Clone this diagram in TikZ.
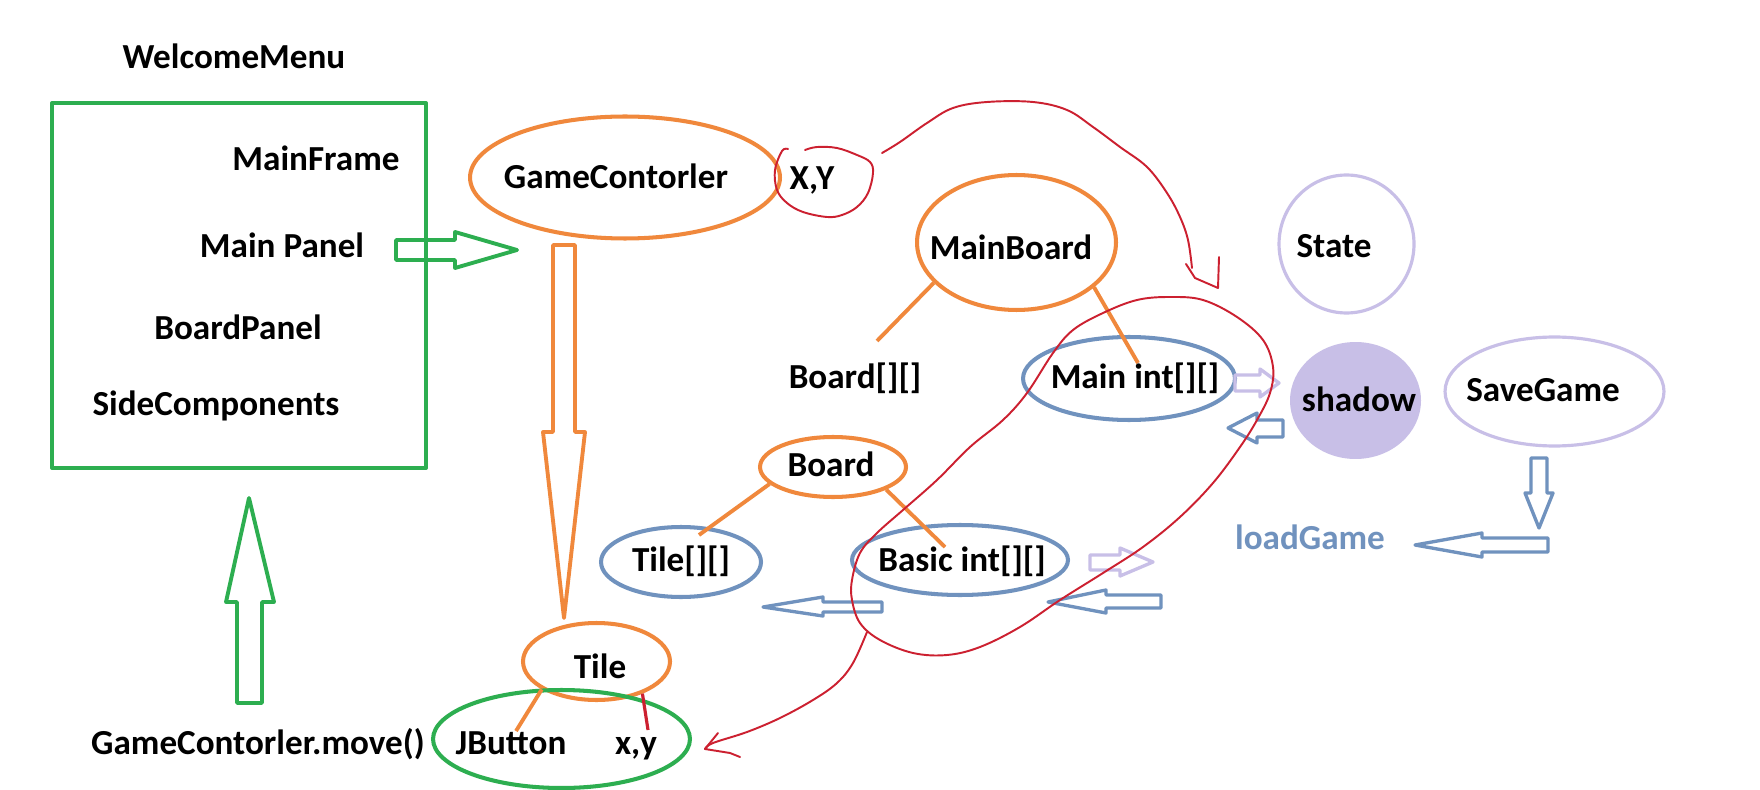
\documentclass[tikz,border=0pt]{standalone}
\usepackage{fontspec}
\setmainfont{Carlito}
\usetikzlibrary{shapes.geometric}
\definecolor{cOrange}{HTML}{F0883C}
\definecolor{cGreen}{HTML}{2DAE50}
\definecolor{cRed}{HTML}{CC2030}
\definecolor{cBlue}{HTML}{7092BE}
\definecolor{cLav}{HTML}{C8BFE7}
\begin{document}
\begin{tikzpicture}[x=0.02cm, y=-0.02cm,
  txt/.style={inner sep=0pt, text height=0.65em, text depth=0pt, yshift=-0.12cm,
              font=\bfseries\fontsize{20}{24}\selectfont},
  oval/.style={ellipse, inner sep=0pt},
  orangeoval/.style={oval, draw=cOrange, line width=2.3pt},
  blueoval/.style={oval, draw=cBlue, line width=2.3pt},
  lavoval/.style={oval, draw=cLav, line width=1.8pt},
  greenline/.style={draw=cGreen, line width=2.3pt, line join=round},
  orangeline/.style={draw=cOrange, line width=2.2pt},
  blockgreen/.style={draw=cGreen, line width=2.2pt, line join=round},
  blockorange/.style={draw=cOrange, line width=2.2pt, line join=round},
  blockblue/.style={draw=cBlue, line width=1.9pt, line join=round},
  blocklav/.style={draw=cLav, line width=1.9pt, line join=round},
  redline/.style={draw=cRed, line width=1.1pt, line join=round, line cap=round},
  ]
\fill[white] (0,0) rectangle (1760,790);
\useasboundingbox (0,0) rectangle (1760,790);

% ---------- WelcomeMenu frame ----------
\node[txt] (wm) at (234,57) {WelcomeMenu};
\draw[greenline] (52,103) rectangle (426,468);
\node[txt] (mf) at (316,159) {MainFrame};
\node[txt] (mp) at (282,246) {Main Panel};
\node[txt] (bp) at (238,328) {BoardPanel};
\node[txt] (sc) at (216,404) {SideComponents};

% ---------- ellipses ----------
\node[orangeoval, minimum width=6.2cm, minimum height=2.44cm] (gc) at (625,177.5) {};
\node[orangeoval, minimum width=3.98cm, minimum height=2.70cm] (mb) at (1016.5,242.5) {};
\node[orangeoval, minimum width=2.92cm, minimum height=1.20cm] (bd) at (833,467) {};
\node[orangeoval, minimum width=2.94cm, minimum height=1.54cm] (tl) at (596.5,661.5) {};
\node[oval, draw=cGreen, line width=2.3pt, minimum width=5.14cm, minimum height=1.96cm] (jb) at (561.5,739) {};
\node[blueoval, minimum width=4.24cm, minimum height=1.66cm] (mi) at (1129,378.5) {};
\node[blueoval, minimum width=3.20cm, minimum height=1.40cm] (tt) at (681,562) {};
\node[blueoval, minimum width=4.32cm, minimum height=1.40cm] (bi) at (960,560) {};
\node[lavoval, minimum width=2.70cm, minimum height=2.76cm] (st) at (1346.5,244) {};
\node[oval, fill=cLav, minimum width=2.62cm, minimum height=2.34cm] (sh) at (1355.5,400.5) {};
\node[lavoval, minimum width=4.38cm, minimum height=2.18cm] (sg) at (1554.5,391.5) {};

% ---------- orange tree lines ----------
\coordinate (bdArrEnd) at (877,341);
\coordinate (miEnd) at (1138,363);
\coordinate (ttEnd) at (699,535);
\coordinate (biEnd) at (945,547);
\coordinate (jbEnd) at (516,731);
\coordinate (xyEnd) at (648,730);
\draw[orangeline] (mb.206) -- (bdArrEnd);
\draw[orangeline] (mb.-30) -- (miEnd);
\draw[orangeline] (bd.195) -- (ttEnd);
\draw[orangeline] (bd.-23) -- (biEnd);
\draw[orangeline] (tl.207) -- (jbEnd);
\draw[draw=cRed, line width=1.8pt] (tl.-35) -- (xyEnd);

% ---------- block arrows ----------
\draw[blockgreen] (396,240) -- (455,240) -- (455,232) -- (517,250) -- (455,268) -- (455,260) -- (396,260) -- cycle;
\draw[blockorange] (553,245) -- (575,245) -- (575,432) -- (585,432) -- (564,618) -- (543,432) -- (553,432) -- cycle;
\draw[blockgreen] (237,703) -- (237,602) -- (226,602) -- (249,498) -- (274,602) -- (262,602) -- (262,703) -- cycle;
\draw[blocklav] (1235,375) -- (1260,375) -- (1260,369) -- (1279,383) -- (1260,397) -- (1260,391) -- (1235,391) -- cycle;
\draw[blockblue] (1283,420) -- (1257,420) -- (1257,413) -- (1228,428) -- (1257,443) -- (1257,437) -- (1283,437) -- cycle;
\draw[blocklav] (1090,555) -- (1120,555) -- (1120,548) -- (1153,562) -- (1120,576) -- (1120,570) -- (1090,570) -- cycle;
\draw[blockblue] (1161,595) -- (1106,595) -- (1106,590) -- (1048,602) -- (1106,613) -- (1106,608) -- (1161,608) -- cycle;
\draw[blockblue] (882,602) -- (823,602) -- (823,597) -- (763,607) -- (823,616) -- (823,612) -- (882,612) -- cycle;
\draw[blockblue] (1531,458) -- (1547,458) -- (1547,493) -- (1553,493) -- (1539,528) -- (1525,493) -- (1531,493) -- cycle;
\draw[blockblue] (1548,538) -- (1482,538) -- (1482,533) -- (1415,545) -- (1482,557) -- (1482,552) -- (1548,552) -- cycle;

% ---------- red strokes ----------
\draw[redline] plot[smooth, tension=0.6] coordinates {(788,149) (782,151) (775,170) (777,190) (787,203) (803,212) (827,217) (842,215) (857,207) (868,193) (873,173) (870,162) (857,155) (837,148) (817,147) (805,150)};
\draw[redline] plot[smooth, tension=0.6] coordinates {(882,153) (900,142) (927,123) (953,108) (987,102) (1033,102) (1067,110) (1093,127) (1120,147) (1147,167) (1167,193) (1180,217) (1188,240) (1192,268)};
\draw[redline] (1186,264) -- (1195,278) -- (1218,288) -- (1219,257);
\draw[redline] plot[smooth cycle, tension=0.6] coordinates {(852,580) (860,553) (877,533) (903,510) (937,480) (970,447) (1003,420) (1027,393) (1053,353) (1073,330) (1103,313) (1137,300) (1170,297) (1203,300) (1237,317) (1263,340) (1273,367) (1270,393) (1257,420) (1240,447) (1213,483) (1180,517) (1143,547) (1103,573) (1060,600) (1020,627) (980,647) (947,655) (913,653) (880,640) (860,623) (852,600)};
\draw[redline] plot[smooth, tension=0.6] coordinates {(867,632) (853,663) (837,683) (813,700) (780,718) (747,732) (713,743) (705,749)};
\draw[redline] (718,733) -- (705,749) -- (730,753) -- (740,757);

% ---------- texts ----------
\node[txt] (gct) at (616,177) {GameContorler};
\node[txt] (xyt) at (812,178) {X,Y};
\node[txt] (mbt) at (1011,248) {MainBoard};
\node[txt] (stt) at (1334,246) {State};
\node[txt] (bdat) at (855,377) {Board[][]};
\node[txt] (mit) at (1135,377) {Main int[][]};
\node[txt] (sht) at (1359,400) {shadow};
\node[txt] (sgt) at (1543,390) {SaveGame};
\node[txt] (bdt) at (831,465) {Board};
\node[txt] (ttt) at (681,560) {Tile[][]};
\node[txt] (bit) at (962,560) {Basic int[][]};
\node[txt, text=cBlue] (lg) at (1310,538) {loadGame};
\node[txt] (tlt) at (600,667) {Tile};
\node[txt] (mv) at (258,743) {GameContorler.move()};
\node[txt] (jbt) at (511,743) {JButton};
\node[txt] (xys) at (636,743) {x,y};
\end{tikzpicture}
\end{document}
